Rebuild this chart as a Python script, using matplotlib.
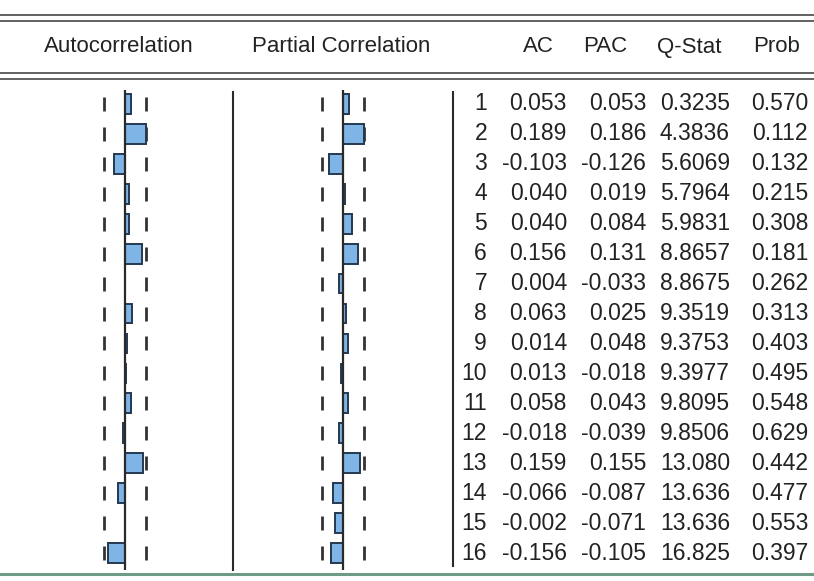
import matplotlib
matplotlib.use("Agg")
import matplotlib.pyplot as plt
from matplotlib.lines import Line2D

# ---- data ----
lags = list(range(1, 17))
ac = [0.053, 0.189, -0.103, 0.040, 0.040, 0.156, 0.004, 0.063,
      0.014, 0.013, 0.058, -0.018, 0.159, -0.066, -0.002, -0.156]
pac = [0.053, 0.186, -0.126, 0.019, 0.084, 0.131, -0.033, 0.025,
       0.048, -0.018, 0.043, -0.039, 0.155, -0.087, -0.071, -0.105]
q_stat = ["0.3235", "4.3836", "5.6069", "5.7964", "5.9831", "8.8657", "8.8675", "9.3519",
          "9.3753", "9.3977", "9.8095", "9.8506", "13.080", "13.636", "13.636", "16.825"]
prob = [0.570, 0.112, 0.132, 0.215, 0.308, 0.181, 0.262, 0.313,
        0.403, 0.495, 0.548, 0.629, 0.442, 0.477, 0.553, 0.397]
conf_bound = 0.185
headers = ["Autocorrelation", "Partial Correlation", "AC", "PAC", "Q-Stat", "Prob"]

# ---- layout ----
W, H = 814, 581
fig = plt.figure(figsize=(W / 100, H / 100), dpi=100)
fig.patch.set_facecolor("white")

FONT = ["Liberation Sans", "DejaVu Sans"]
TXT = "#222222"
LINE = "#2a2a2a"

def fx(px):
    return px / W

def fy(py):
    return 1 - py / H

# pixel geometry of the table rows
row1_py, row16_py = 104, 553
ax_top_py, ax_bot_py = 90, 570
per_lag = (row16_py - row1_py) / 15.0
ylim_top = 1 - (row1_py - ax_top_py) / per_lag
ylim_bot = 16 + (ax_bot_py - row16_py) / per_lag

px_per_unit = 111.0

def bar_axes(left_px, right_px, zero_px):
    ax = fig.add_axes([fx(left_px), fy(ax_bot_py), (right_px - left_px) / W,
                       (ax_bot_py - ax_top_py) / H])
    ax.set_xlim((left_px - zero_px) / px_per_unit, (right_px - zero_px) / px_per_unit)
    ax.set_ylim(ylim_bot, ylim_top)
    ax.axis("off")
    return ax

def draw_panel(ax, vals):
    ax.barh(lags, vals, height=0.66, left=0, color="#7fb4e6",
            edgecolor="#243850", linewidth=1.4, zorder=2)
    ax.axvline(0, color=LINE, lw=1.6, zorder=3, ymin=0, ymax=1)
    for s in (-conf_bound, conf_bound):
        ax.plot([s] * len(lags), lags, linestyle="none", marker="|",
                markersize=10, mew=2.0, color="#333333", zorder=1)

ax1 = bar_axes(20, 230, 125)
draw_panel(ax1, ac)
ax2 = bar_axes(240, 450, 343)
draw_panel(ax2, pac)

# ---- frame lines ----
def hline(py, color=LINE, lw=1.3):
    fig.add_artist(Line2D([0.0, 1.0], [fy(py), fy(py)], color=color, lw=lw))

def vline(px, py0, py1, lw=1.5):
    fig.add_artist(Line2D([fx(px), fx(px)], [fy(py0), fy(py1)], color=LINE, lw=lw))

hline(15, color="#555555"); hline(21, color="#555555")
hline(73, color="#555555"); hline(79, color="#555555")
hline(574, color="#6f9a86", lw=2.2)
vline(233, 92, 570)
vline(453, 92, 566)

# ---- headers ----
header_x = [119, 341, 538, 605, 689, 777]
for t, x in zip(headers, header_x):
    fig.text(fx(x), fy(47), t, ha="center", va="center", fontsize=16,
             family=FONT, color=TXT)

# ---- numeric table ----
tab = fig.add_axes([fx(453), fy(ax_bot_py), (W - 453) / W, (ax_bot_py - ax_top_py) / H])
tab.set_xlim(453, W)
tab.set_ylim(ylim_bot, ylim_top)
tab.axis("off")
col_right = [487, 567, 646, 730, 808]
for i, lag in enumerate(lags):
    cells = [str(lag), f"{ac[i]:.3f}", f"{pac[i]:.3f}", q_stat[i], f"{prob[i]:.3f}"]
    for c, xr in zip(cells, col_right):
        tab.text(xr, lag, c, ha="right", va="center", fontsize=16.5,
                 family=FONT, color=TXT)

fig.savefig("out.png", dpi=100)
